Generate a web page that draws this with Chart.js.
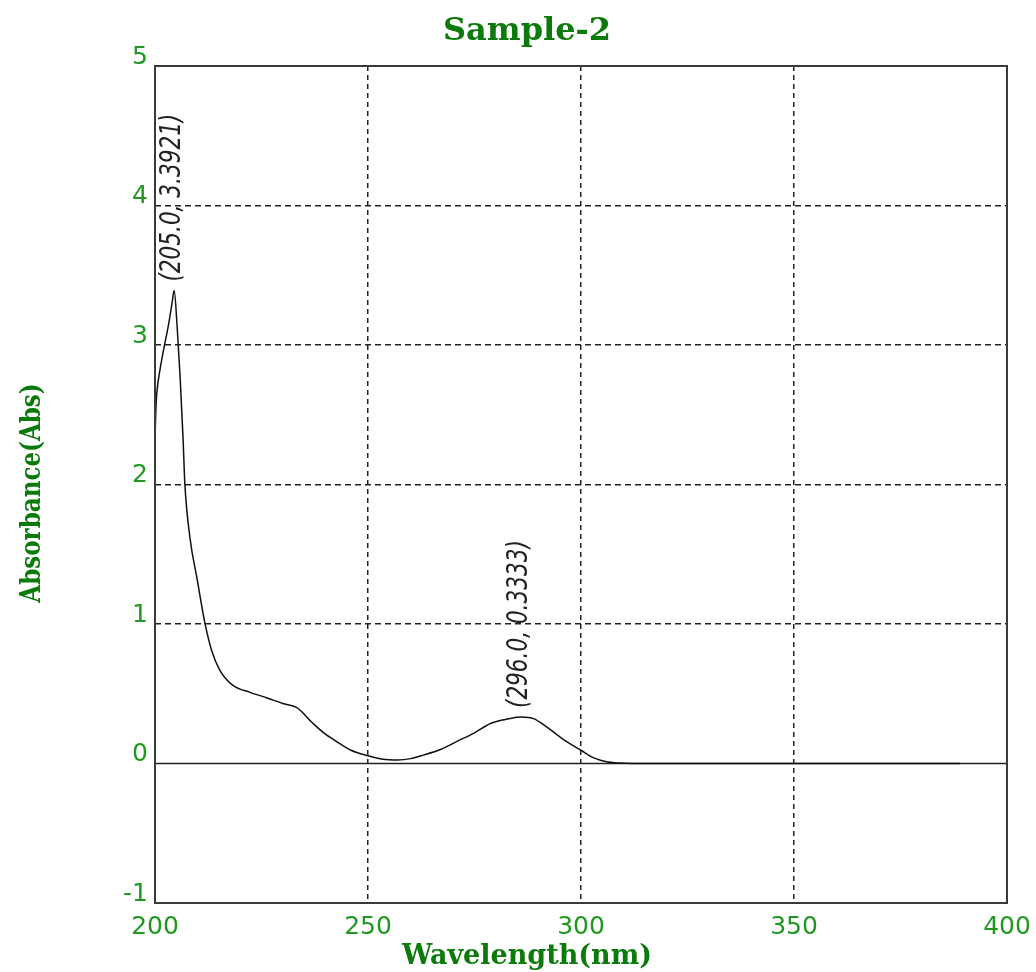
<!DOCTYPE html>
<html>
<head>
<meta charset="utf-8">
<script src="https://cdn.jsdelivr.net/npm/chart.js@4/dist/chart.umd.min.js"></script>
<style>
html,body{margin:0;padding:0;background:#fff;}
canvas{display:block;}
</style>
</head>
<body>
<canvas id="c" width="1036" height="972"></canvas>
<script>
// ---- data ----
const chartTitle = 'Sample-2';
const xTitle = 'Wavelength(nm)';
const yTitle = 'Absorbance(Abs)';
const wavelengths = [200, 200.3, 200.7, 201.5, 202.3, 203.2, 204, 204.5, 205.2, 205.9, 206.6, 207, 208.2, 209.9, 211.7, 213.3, 215.2, 218.3, 222.3, 226.3, 230, 233.3, 237, 240, 242, 246, 250, 253.5, 257, 260, 263, 267, 271, 275, 279, 283, 286, 289, 292, 296, 300, 303, 306, 309, 312, 320, 340, 360, 380, 389];
const absorbance  = [2.34, 2.6, 2.73, 2.88, 3.01, 3.15, 3.30, 3.39, 3.13, 2.77, 2.32, 2.01, 1.62, 1.32, 1.01, 0.81, 0.67, 0.56, 0.51, 0.47, 0.43, 0.40, 0.29, 0.21, 0.17, 0.095, 0.055, 0.03, 0.025, 0.035, 0.06, 0.10, 0.16, 0.22, 0.29, 0.32, 0.333, 0.32, 0.26, 0.17, 0.095, 0.04, 0.012, 0.003, 0, 0, 0, 0, 0, 0];
const baselineX = [200, 400];
const baselineY = [0, 0];
const xTicks = [200, 250, 300, 350, 400];
const yTicks = [-1, 0, 1, 2, 3, 4, 5];
const peakX = [204.5, 286];
const peakY = [3.39, 0.333];
const peakText = ['(205.0, 3.3921)', '(296.0, 0.3333)'];

const TICK_GREEN = '#1f991f';
const TITLE_GREEN = '#0a7a0a';

const curve = wavelengths.map((w, i) => ({x: w, y: absorbance[i]}));
const baseline = baselineX.map((w, i) => ({x: w, y: baselineY[i]}));

const decorPlugin = {
  id: 'decor',
  afterDraw(chart) {
    const ctx = chart.ctx;
    const a = chart.chartArea;
    const xs = chart.scales.x, ys = chart.scales.y;
    ctx.save();
    // frame
    ctx.strokeStyle = '#3a3a3a';
    ctx.lineWidth = 2;
    ctx.strokeRect(a.left, a.top, a.right - a.left, a.bottom - a.top);
    // peak annotations
    ctx.fillStyle = '#222';
    ctx.font = "italic 24px 'Liberation Sans Narrow', 'DejaVu Sans Condensed', sans-serif";
    ctx.textAlign = 'left';
    ctx.textBaseline = 'middle';
    for (let i = 0; i < peakX.length; i++) {
      const px = xs.getPixelForValue(peakX[i]);
      const py = ys.getPixelForValue(peakY[i]);
      ctx.save();
      ctx.translate(px - 2, py - 9);
      ctx.rotate(-Math.PI / 2);
      ctx.scale(1, 1.2);
      ctx.fillText(peakText[i], 0, 0);
      ctx.restore();
    }
    // titles
    ctx.fillStyle = TITLE_GREEN;
    ctx.textAlign = 'center';
    ctx.textBaseline = 'middle';
    ctx.font = "bold 32px 'DejaVu Serif', serif";
    ctx.fillText(chartTitle, 527, 32);
    ctx.font = "bold 27px 'DejaVu Serif', serif";
    ctx.fillText(xTitle, 527, 957);
    ctx.save();
    ctx.translate(33, 493);
    ctx.rotate(-Math.PI / 2);
    ctx.scale(1, 1.25);
    ctx.font = "bold 23px 'DejaVu Serif', serif";
    ctx.fillText(yTitle, 0, 0);
    ctx.restore();
    ctx.restore();
  }
};

new Chart(document.getElementById('c'), {
  type: 'line',
  data: {
    datasets: [
      {
        data: curve,
        borderColor: '#111',
        borderWidth: 1.5,
        pointRadius: 0,
        fill: false,
        cubicInterpolationMode: 'monotone'
      },
      {
        data: baseline,
        borderColor: '#222',
        borderWidth: 1.5,
        pointRadius: 0,
        fill: false,
        tension: 0
      }
    ]
  },
  options: {
    responsive: false,
    devicePixelRatio: 1,
    animation: false,
    layout: {padding: {top: 66, right: 29, bottom: 0, left: 0}},
    plugins: {legend: {display: false}, title: {display: false}, tooltip: {enabled: false}},
    scales: {
      x: {
        type: 'linear',
        min: 200, max: 400,
        afterBuildTicks: s => { s.ticks = xTicks.map(v => ({value: v})); },
        afterFit: s => { s.height = 69; s.paddingLeft = 0; s.paddingRight = 0; },
        grid: {
          drawTicks: false,
          lineWidth: 1.5,
          color: c => (c.tick && (c.tick.value === 200 || c.tick.value === 400)) ? 'rgba(0,0,0,0)' : '#222'
        },
        border: {display: false, dash: [5, 4]},
        ticks: {
          color: TICK_GREEN,
          padding: 9,
          maxRotation: 0,
          font: {family: "'DejaVu Sans', sans-serif", size: 25},
          callback: v => String(v)
        }
      },
      y: {
        min: -1, max: 5,
        afterBuildTicks: s => { s.ticks = yTicks.map(v => ({value: v})); },
        afterFit: s => { s.width = 155; s.paddingTop = 0; s.paddingBottom = 0; },
        grid: {
          drawTicks: false,
          lineWidth: 1.5,
          color: c => (c.tick && (c.tick.value === -1 || c.tick.value === 0 || c.tick.value === 5)) ? 'rgba(0,0,0,0)' : '#222'
        },
        border: {display: false, dash: [6, 4]},
        ticks: {
          color: TICK_GREEN,
          padding: 7,
          labelOffset: -9,
          font: {family: "'DejaVu Sans', sans-serif", size: 25},
          callback: v => String(v)
        }
      }
    }
  },
  plugins: [decorPlugin]
});
</script>
</body>
</html>
